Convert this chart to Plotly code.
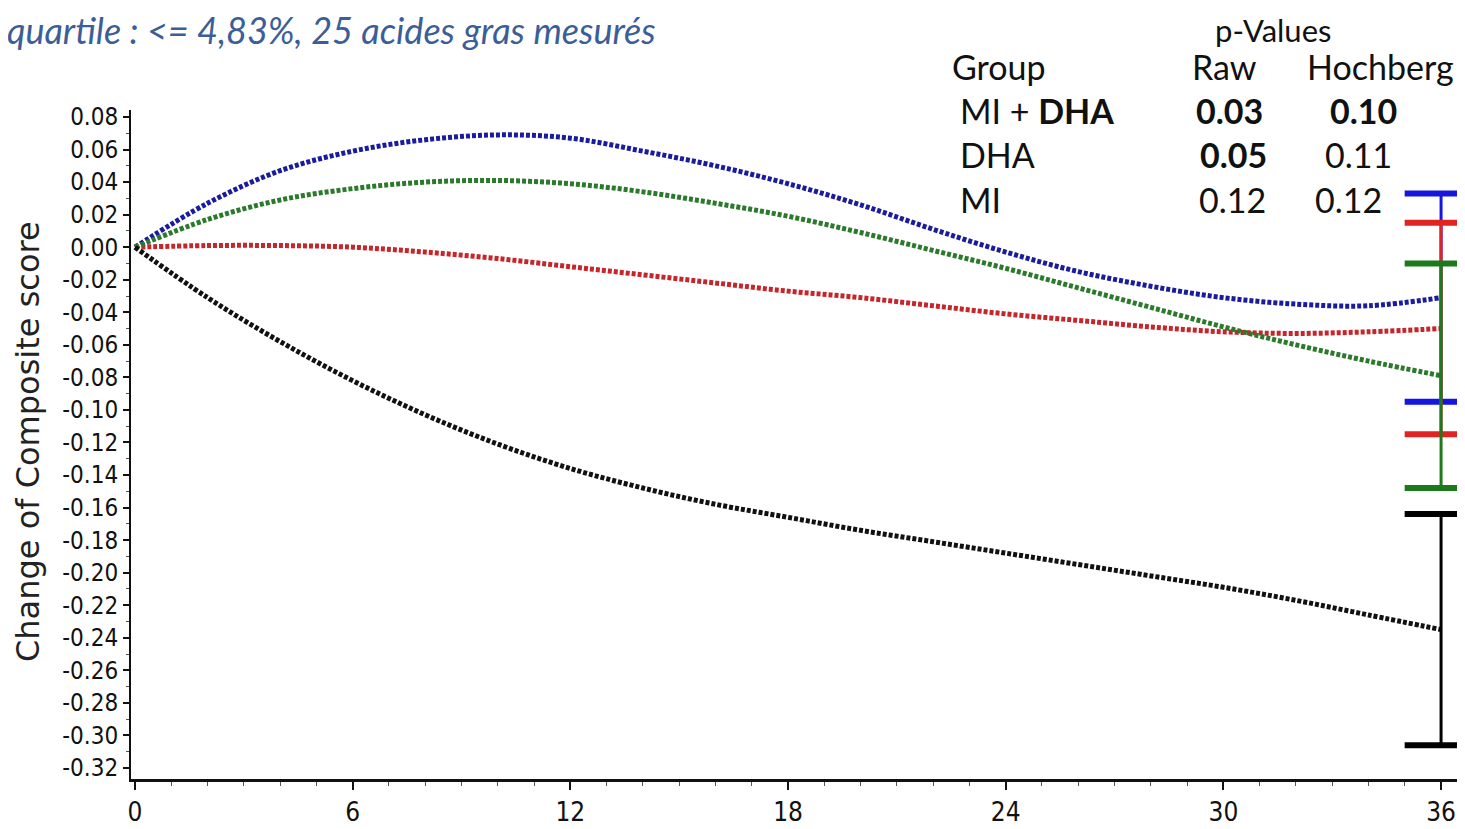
import plotly.graph_objects as go

# ---------------- data ----------------
months = [0, 2, 4, 6, 8, 10, 12, 14, 16, 18, 20, 22, 24, 26, 28, 30, 32, 34, 36]

blue_vals = [0.000, 0.027, 0.047, 0.059, 0.066, 0.069, 0.067, 0.059, 0.050, 0.039,
             0.026, 0.011, -0.003, -0.015, -0.024, -0.031, -0.035, -0.036, -0.031]
red_vals = [0.000, 0.001, 0.001, 0.000, -0.003, -0.007, -0.012, -0.017, -0.022, -0.027,
            -0.031, -0.036, -0.041, -0.045, -0.049, -0.052, -0.053, -0.052, -0.050]
green_vals = [0.000, 0.017, 0.029, 0.036, 0.040, 0.041, 0.039, 0.034, 0.027, 0.019,
              0.009, -0.002, -0.013, -0.025, -0.037, -0.049, -0.060, -0.070, -0.079]
black_vals = [0.000, -0.031, -0.058, -0.082, -0.103, -0.121, -0.136, -0.148, -0.158, -0.166,
              -0.174, -0.181, -0.188, -0.195, -0.202, -0.209, -0.217, -0.226, -0.235]

# error (half-range) at month 36
err_month = 36
blue_err = 0.064
red_err = 0.065
green_err = 0.069
black_err = 0.071

y_tick_vals = [round(-0.32 + 0.02 * i, 2) for i in range(21)]
y_tick_text = ["%.2f" % v for v in y_tick_vals]
x_tick_vals = [0, 6, 12, 18, 24, 30, 36]

title_text = "quartile : <= 4,83%, 25 acides gras mesurés"
table_header = ["p-Values", "Group", "Raw", "Hochberg"]
table_groups = ["MI + <b>DHA</b>", "DHA", "MI"]
table_raw = ["<b>0.03</b>", "<b>0.05</b>", "0.12"]
table_hoch = ["<b>0.10</b>", "0.11", "0.12"]

# ---------------- styling ----------------
curve_colors = {"blue": "#1b1b9e", "red": "#c4262b", "green": "#2b7a2b", "black": "#111111"}
bar_colors = {"blue": "#1515e0", "red": "#e02424", "green": "#1c7a1c", "black": "#000000"}

series = [
    ("MI + DHA", "blue", blue_vals, blue_err),
    ("DHA", "red", red_vals, red_err),
    ("MI", "green", green_vals, green_err),
    ("Placebo", "black", black_vals, black_err),
]

fig = go.Figure()

for name, col, vals, err in series:
    fig.add_trace(go.Scatter(
        x=months, y=vals, mode="lines", name=name, showlegend=False,
        line=dict(color=curve_colors[col], width=5, dash="4px,2px", shape="spline", smoothing=1.0),
        hoverinfo="skip",
    ))

for name, col, vals, err in series:
    yend = vals[-1]
    fig.add_trace(go.Scatter(
        x=[err_month], y=[yend], mode="markers", showlegend=False,
        marker=dict(size=1, color="rgba(0,0,0,0)"),
        error_y=dict(type="data", array=[err], visible=True, color=bar_colors[col],
                     thickness=3, width=0),
        hoverinfo="skip",
    ))
    fig.add_trace(go.Scatter(
        x=[err_month, err_month], y=[yend - err, yend + err], mode="markers", showlegend=False,
        marker=dict(symbol="line-ew", size=52, color=bar_colors[col],
                    line=dict(color=bar_colors[col], width=6)),
        hoverinfo="skip", cliponaxis=False,
    ))

# ---------------- layout ----------------
OFF = 8  # page body margin
FIG_W, FIG_H = 1465 - OFF, 829 - OFF
L, R, T, B = 131, 1465, 110, 779  # plot area in page pixels
PW, PH = R - L, B - T


def px(xp):
    return (xp - L) / PW


def py(yp):
    return (B - yp) / PH


narrow = "Liberation Sans Narrow, DejaVu Sans Condensed, Arial Narrow, sans-serif"
ytick_font = dict(family=narrow, size=24, color="#111111")
xtick_font = dict(family=narrow, size=26, color="#111111")
table_font_family = "Lato, Open Sans, sans-serif"

annotations = []
annotations.append(dict(
    text="Change of Composite score", xref="paper", yref="paper",
    x=px(28), y=py(442), xanchor="center", yanchor="middle", textangle=-90,
    showarrow=False, font=dict(family="DejaVu Sans, Arial, sans-serif", size=32, color="#222222"),
))
annotations.append(dict(
    text="<i>" + title_text + "</i>", xref="paper", yref="paper",
    x=px(5), y=py(30), xanchor="left", yanchor="middle", showarrow=False,
    font=dict(family=table_font_family, size=36, color="#3b5e98"),
))

tf = dict(family=table_font_family, size=34, color="#111111")
annotations += [
    dict(text=table_header[0], x=px(1273), y=py(9), xanchor="center"),
    dict(text=table_header[1], x=px(950), y=py(66), xanchor="left"),
    dict(text=table_header[2], x=px(1224), y=py(66), xanchor="center"),
    dict(text=table_header[3], x=px(1380), y=py(66), xanchor="center"),
]
row_y = [110, 155, 199]
raw_x = [1229, 1233, 1232]
hoch_x = [1363, 1358, 1348]
for i in range(3):
    annotations.append(dict(text=table_groups[i], x=px(958), y=py(row_y[i]), xanchor="left"))
    annotations.append(dict(text=table_raw[i], x=px(raw_x[i]), y=py(row_y[i]), xanchor="center"))
    annotations.append(dict(text=table_hoch[i], x=px(hoch_x[i]), y=py(row_y[i]), xanchor="center"))
for a in annotations[2:]:
    a.update(xref="paper", yref="paper", yanchor="middle", showarrow=False, font=tf)
annotations[2]["font"] = dict(family=table_font_family, size=31, color="#111111")
annotations[2]["yanchor"] = "top"

fig.update_layout(
    width=FIG_W, height=FIG_H,
    margin=dict(l=L - OFF, r=FIG_W - (R - OFF), t=T - OFF, b=FIG_H - (B - OFF), pad=0),
    paper_bgcolor="white", plot_bgcolor="white",
    annotations=annotations,
    showlegend=False,
)

fig.update_xaxes(
    range=[-0.11, 36.66], tickvals=x_tick_vals, ticks="outside", ticklen=8, tickwidth=2,
    tickcolor="#111111", showline=True, linewidth=3, linecolor="#111111",
    showgrid=False, zeroline=False, tickfont=xtick_font,
    minor=dict(dtick=1, ticks="outside", ticklen=4, tickwidth=1, tickcolor="#555555", showgrid=False),
)
fig.update_yaxes(
    range=[-0.3268, 0.0843], tickvals=y_tick_vals, ticktext=y_tick_text, ticks="outside",
    ticklen=6, tickwidth=2, tickcolor="#111111", showline=True, linewidth=2,
    linecolor="#111111", showgrid=False, zeroline=False, tickfont=ytick_font,
    minor=dict(dtick=0.01, tick0=0, ticks="outside", ticklen=3, tickwidth=1, tickcolor="#555555", showgrid=False),
)

fig.write_html("out.html")
